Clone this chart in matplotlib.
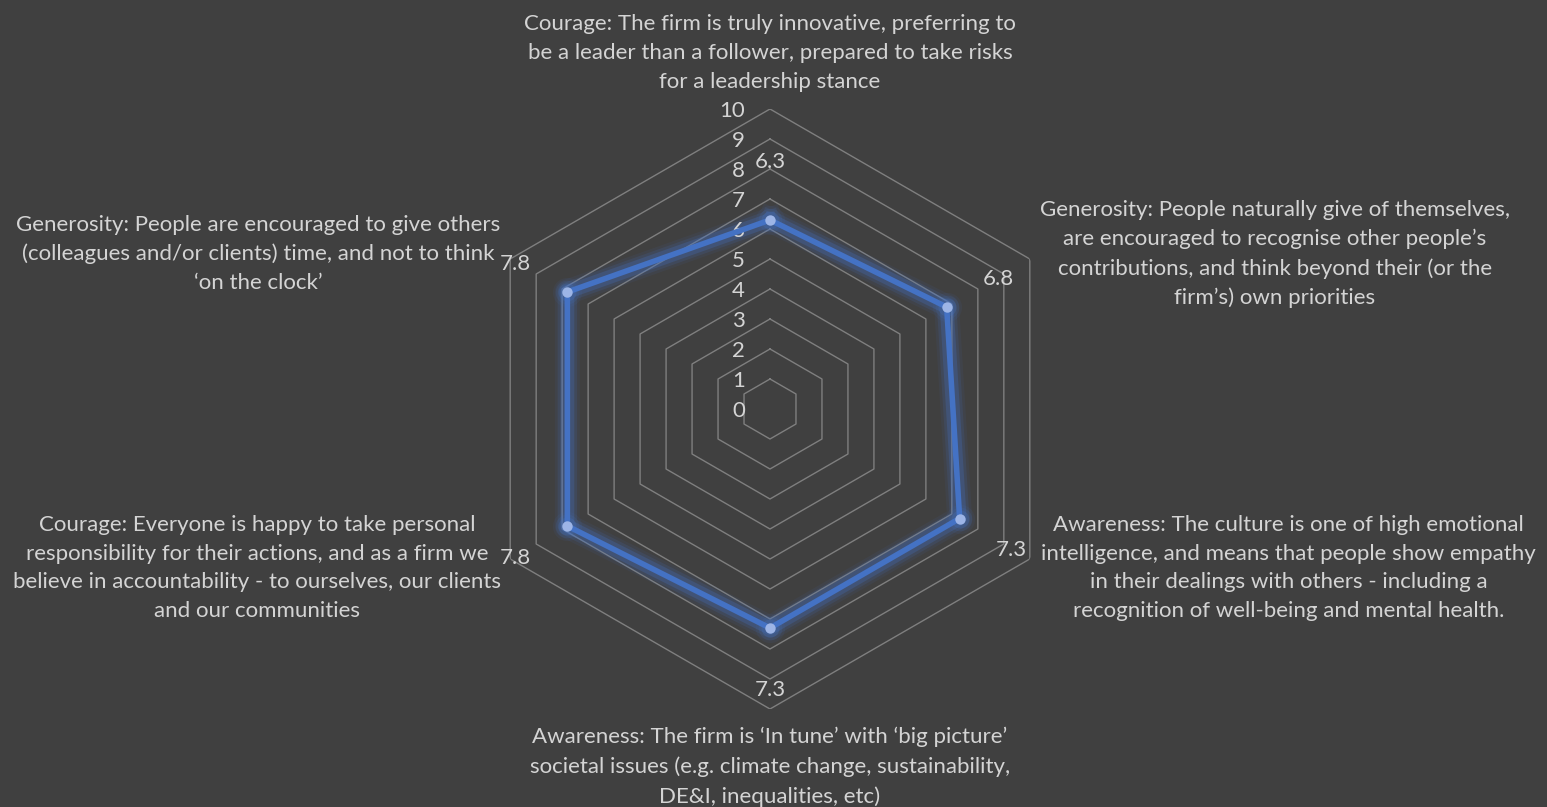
import numpy as np
import matplotlib.pyplot as plt

# axis labels, clockwise from the top
categories = [
    "Courage: The firm is truly innovative, preferring to\nbe a leader than a follower, prepared to take risks\nfor a leadership stance",
    "Generosity: People naturally give of themselves,\nare encouraged to recognise other people\u2019s\ncontributions, and think beyond their (or the\nfirm\u2019s) own priorities",
    "Awareness: The culture is one of high emotional\nintelligence, and means that people show empathy\nin their dealings with others - including a\nrecognition of well-being and mental health.",
    "Awareness: The firm is \u2018In tune\u2019 with \u2018big picture\u2019\nsocietal issues (e.g. climate change, sustainability,\nDE&I, inequalities, etc)",
    "Courage: Everyone is happy to take personal\nresponsibility for their actions, and as a firm we\nbelieve in accountability - to ourselves, our clients\nand our communities",
    "Generosity: People are encouraged to give others\n(colleagues and/or clients) time, and not to think\n\u2018on the clock\u2019",
]
scores = [6.3, 6.8, 7.3, 7.3, 7.8, 7.8]
ring_values = list(range(0, 11))

BG = '#404040'
TXT = '#d4d4d4'
GRID = '#7f7f7f'
BLUE = '#4472c4'

plt.rcParams['font.family'] = ['Lato', 'DejaVu Sans']
plt.rcParams['font.size'] = 16

fig = plt.figure(figsize=(15.47, 8.07), dpi=100, facecolor=BG)
ax = fig.add_axes([470 / 1547, 98 / 807, 600 / 1547, 600 / 807], projection='polar')
ax.set_facecolor(BG)
ax.set_theta_offset(np.pi / 2)
ax.set_theta_direction(-1)
ax.set_ylim(0, 10)
ax.grid(False)
ax.spines['polar'].set_visible(False)
ax.set_xticks([])
ax.set_yticks([])

n = len(categories)
theta = np.linspace(0, 2 * np.pi, n, endpoint=False)
theta_closed = np.append(theta, theta[0])

# hexagonal grid rings
for r in ring_values[1:]:
    ax.plot(theta_closed, [r] * (n + 1), color=GRID, lw=1.0, zorder=1)

# ring value labels on the top spoke
for r in ring_values:
    ax.annotate(str(r), xy=(0, r), xytext=(-25, 0), textcoords='offset pixels',
                ha='right', va='center_baseline', color=TXT, annotation_clip=False)

# series with a soft glow
vals = np.append(scores, scores[0])
for w, a in [(18, 0.08), (14, 0.14), (10, 0.26)]:
    ax.plot(theta_closed, vals, color=BLUE, lw=w, alpha=a, solid_joinstyle='round', zorder=2)
    ax.plot(theta, scores, 'o', color=BLUE, ms=w + 3, alpha=a, mec='none', zorder=2)
ax.plot(theta_closed, vals, color=BLUE, lw=4.0, solid_joinstyle='round', zorder=3)
ax.plot(theta, scores, 'o', color='#9db5e6', ms=7.5, mec='none', zorder=4)

# data labels, pushed out along each spoke
for t, v in zip(theta, scores):
    ax.annotate(f"{v:.1f}", xy=(t, v), xytext=(60 * np.sin(t), 60 * np.cos(t)),
                textcoords='offset pixels', ha='center', va='center_baseline',
                color=TXT, annotation_clip=False)

# category labels around the outer ring
label_offsets = [(0, 56), (245, 5), (259, -9), (0, -58), (-253, -9), (-252, 5)]
for t, text, off in zip(theta, categories, label_offsets):
    ax.annotate(text, xy=(t, 10), xytext=off, textcoords='offset pixels',
                ha='center', va='center', multialignment='center',
                linespacing=1.55, color=TXT, annotation_clip=False)

fig.savefig('out.png', dpi=100, facecolor=BG)
